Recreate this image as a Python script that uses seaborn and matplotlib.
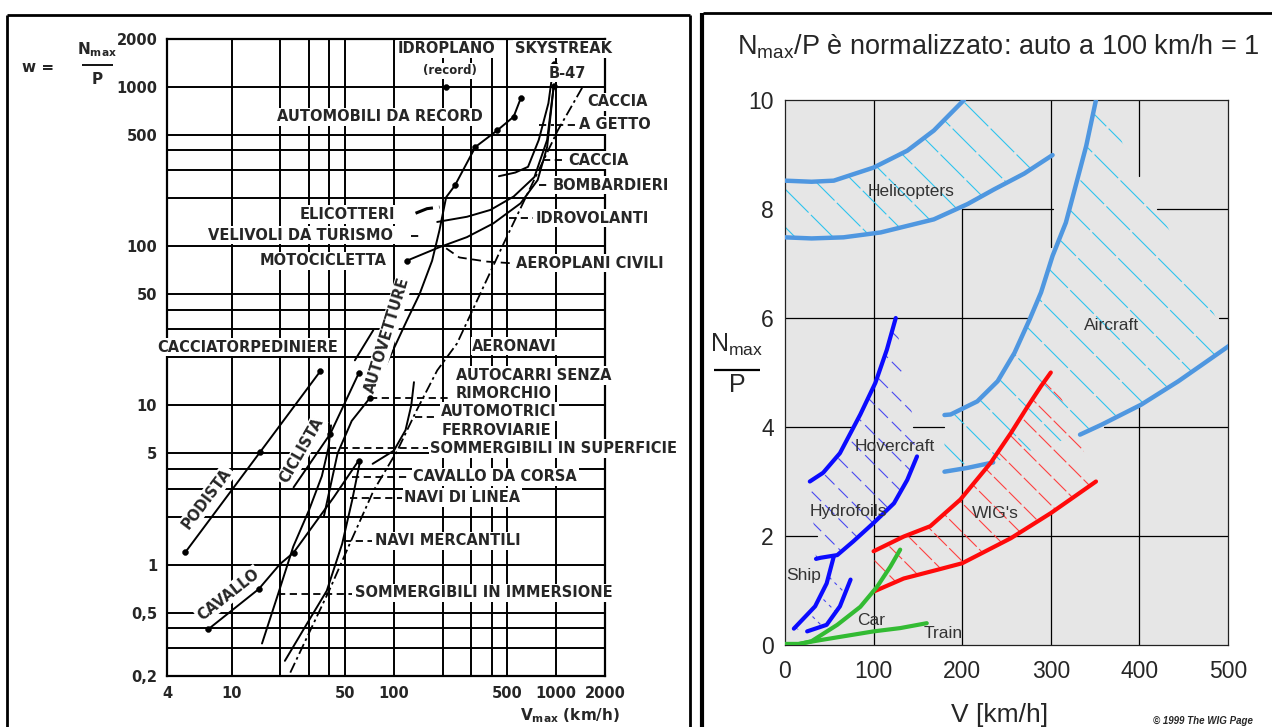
import numpy as np
import matplotlib
matplotlib.use("Agg")
import matplotlib.pyplot as plt
import seaborn as sns
from matplotlib.patches import Polygon
from matplotlib.lines import Line2D
from matplotlib.ticker import FixedLocator, NullFormatter

# ---------------- left chart: w = Nmax/P vs Vmax (log-log) ----------------
podista_v = [5.2, 15.0, 35.2]
podista_w = [1.2, 5.1, 16.4]
ciclista_v = [24.1, 40.6, 60.7]
ciclista_w = [3.06, 6.64, 15.9]
cavallo_v = [7.2, 14.7, 19.9, 24.1, 31.3, 42.6, 60.7]
cavallo_w = [0.394, 0.703, 1.01, 1.19, 1.72, 2.65, 4.51]
navi_v = [21.3, 28.9, 38.6, 48.0, 55.3, 62.0]
navi_w = [0.249, 0.42, 0.686, 1.35, 2.53, 4.5]
sommerg_v = [15.4, 19.4, 24.0, 30.0, 36.0, 39.5, 41.0]
sommerg_w = [0.32, 0.66, 1.3, 2.2, 3.6, 5.4, 7.5]
autocarri_v = [37, 45, 55, 71]
autocarri_w = [2.0, 5.0, 8.0, 11.1]
automotrici_v = [74, 100, 118, 128, 133]
automotrici_w = [4.3, 5.2, 7.0, 10.0, 14.0]
cacciatorp_v = [57.5, 74.7]
cacciatorp_w = [19.2, 29.7]
autovetture_v = [79, 102, 120, 144, 172, 191, 210, 238, 318, 435, 547, 607]
autovetture_w = [13.7, 23.8, 34, 50, 81, 126, 203, 241, 420, 535, 650, 855]
caccia_v = [444, 560, 671, 781, 896, 967]
caccia_w = [275, 290, 315, 464, 790, 1400]
moto_v = [120, 191, 282, 410, 604, 769, 880, 967]
moto_w = [81, 98.6, 114, 139, 186, 260, 420, 1020]
velivoli_v = [185, 282, 394, 547, 735, 880, 967]
velivoli_w = [142, 153, 169, 205, 272, 465, 1020]
limite_v = [23, 40.4, 53.6, 75, 105, 138, 185, 245, 475, 1025, 1480]
limite_w = [0.21, 0.706, 1.36, 2.92, 5.2, 9.3, 16.6, 24.5, 104, 535, 1030]
civili_v = [210, 253, 376, 545]
civili_w = [97, 85, 80, 78]
elicotteri_v = [136, 160, 191]
elicotteri_w = [161, 172, 176]

dots_v = [5.2, 15.0, 35.2, 40.6, 60.7, 7.2, 14.7, 24.1, 60.7, 238, 318, 435, 547, 607,
          120, 211, 967, 967, 71]
dots_w = [1.2, 5.1, 16.4, 6.64, 15.9, 0.394, 0.703, 1.19, 4.51, 241, 420, 535, 650, 855,
          81, 1000, 1400, 1020, 11.1]

# horizontal dashed leaders: (v start, v end, w)
leaders = [(19.4, 55, 0.657), (49, 73, 1.41), (53.6, 112, 2.64), (55, 125, 3.57),
           (39.6, 163, 5.44), (135, 187, 8.4), (71, 229, 11.1), (511, 720, 150),
           (780, 900, 242), (830, 1130, 346), (780, 966, 580), (1000, 1320, 580),
           (128, 150, 116)]

grid_v = [10, 20, 30, 40, 50, 100, 200, 300, 400, 500, 1000, 2000]
grid_w = [0.3, 0.4, 0.5, 1, 2, 3, 4, 5, 10, 20, 30, 40, 50, 100, 200, 300, 400, 500, 1000, 2000]
xt_left = [4, 10, 50, 100, 500, 1000, 2000]
xt_left_lab = ["4", "10", "50", "100", "500", "1000", "2000"]
yt_left = [0.2, 0.5, 1, 5, 10, 50, 100, 500, 1000, 2000]
yt_left_lab = ["0,2", "0,5", "1", "5", "10", "50", "100", "500", "1000", "2000"]

labels_left = [
    ("IDROPLANO", 106, 1740), ("SKYSTREAK", 555, 1740), ("B-47", 900, 1220),
    ("CACCIA", 1564, 805), ("A GETTO", 1375, 580), ("CACCIA", 1180, 346),
    ("BOMBARDIERI", 953, 241), ("IDROVOLANTI", 749, 150),
    ("AUTOMOBILI DA RECORD", 19.1, 650), ("ELICOTTERI", 26.4, 158),
    ("VELIVOLI DA TURISMO", 7.16, 117), ("MOTOCICLETTA", 14.8, 81),
    ("AEROPLANI CIVILI", 562, 78), ("CACCIATORPEDINIERE", 3.48, 23.2),
    ("AERONAVI", 304, 23.5), ("AUTOCARRI SENZA", 240, 15.4), ("RIMORCHIO", 240, 11.9),
    ("AUTOMOTRICI", 196, 9.15), ("FERROVIARIE", 196, 6.96),
    ("SOMMERGIBILI IN SUPERFICIE", 168, 5.36), ("CAVALLO DA CORSA", 132, 3.57),
    ("NAVI DI LINEA", 116, 2.64), ("NAVI MERCANTILI", 76.8, 1.415),
    ("SOMMERGIBILI IN IMMERSIONE", 58, 0.667)]
rotated_left = [("PODISTA", 7.05, 2.6, 53), ("CICLISTA", 27.0, 5.2, 60),
                ("CAVALLO", 9.55, 0.648, 38), ("AUTOVETTURE", 91, 27.6, 73)]

# ---------------- right chart: normalised Nmax/P vs V ----------------
heli_up_v = [0, 30, 55, 100, 138, 168, 202]
heli_up_n = [8.52, 8.5, 8.52, 8.76, 9.07, 9.44, 10.0]
heli_lo_v = [0, 30, 66, 108, 168, 206, 236, 270, 302]
heli_lo_n = [7.48, 7.46, 7.48, 7.57, 7.81, 8.09, 8.36, 8.65, 8.99]
air_left_v = [180, 187, 217, 240, 259, 276, 289, 302, 317, 327, 340, 351]
air_left_n = [4.22, 4.23, 4.47, 4.84, 5.36, 5.97, 6.47, 7.14, 7.75, 8.36, 9.16, 10.0]
air_right_v = [333, 357, 402, 444, 474, 503]
air_right_n = [3.86, 4.04, 4.41, 4.84, 5.18, 5.51]
air_low_v = [180, 206, 235]
air_low_n = [3.18, 3.25, 3.35]
hov_up_v = [28, 43, 62, 85, 102, 115, 125]
hov_up_n = [3.0, 3.16, 3.52, 4.23, 4.81, 5.42, 6.0]
hov_lo_v = [35, 40, 59, 77, 100, 123, 138, 149]
hov_lo_n = [1.58, 1.6, 1.65, 1.9, 2.24, 2.6, 3.03, 3.46]
ship_l_v = [10, 34, 47, 55]
ship_l_n = [0.3, 0.71, 1.13, 1.62]
ship_r_v = [25, 47, 62, 74]
ship_r_n = [0.25, 0.37, 0.71, 1.2]
wig_up_v = [100, 134, 164, 198, 232, 255, 274, 289, 300]
wig_up_n = [1.72, 1.99, 2.18, 2.67, 3.34, 3.89, 4.38, 4.75, 5.0]
wig_lo_v = [100, 134, 172, 200, 255, 300, 351]
wig_lo_n = [0.98, 1.22, 1.38, 1.5, 1.96, 2.42, 3.0]
car_v = [12, 30, 59, 85, 104, 119, 130]
car_n = [0.0, 0.07, 0.37, 0.7, 1.07, 1.44, 1.75]
train_v = [0, 15, 40, 70, 100, 130, 160]
train_n = [0.02, 0.02, 0.09, 0.17, 0.25, 0.31, 0.4]

labels_right = [("Helicopters", 142, 8.32), ("Aircraft", 368, 5.86), ("Hovercraft", 124, 3.64),
                ("Hydrofoils", 71, 2.45), ("Ship", 20.6, 1.27), ("Car", 97, 0.45),
                ("Train", 178, 0.21), ("WIG's", 237, 2.42)]

# partial grid lines of the right chart: (x0, x1, y0, y1)
grid_right = [(100, 100, 0, 10), (200, 200, 0, 8), (300, 300, 0, 2.4), (300, 300, 7.3, 10),
              (400, 400, 0, 4.4), (400, 400, 8.6, 10),
              (0, 36, 2, 2), (100, 500, 2, 2), (0, 76, 4, 4), (145, 180, 4, 4), (360, 500, 4, 4),
              (0, 275, 6, 6), (490, 500, 6, 6), (200, 303, 8, 8), (420, 500, 8, 8)]

W, H = 1272, 727
sns.set_style("white")
plt.rcParams["font.family"] = ["Liberation Sans", "DejaVu Sans"]
LF = dict(family="DejaVu Sans", fontweight="bold")

fig = plt.figure(figsize=(W / 100, H / 100), dpi=100)


def fx(px):
    return px / W


def fy(py):
    return 1 - py / H


def fig_line(x0, y0, x1, y1, lw):
    fig.add_artist(Line2D([fx(x0), fx(x1)], [fy(y0), fy(y1)], transform=fig.transFigure,
                          color="black", lw=lw, solid_capstyle="butt"))


def curve(ax, v, n, color="black", lw=1.3, z=2):
    sns.lineplot(x=v, y=n, ax=ax, sort=False, color=color, lw=lw, zorder=z,
                 solid_capstyle="round", solid_joinstyle="round")


def hatch(ax, xs, ys, color, step_px=32, lw=0.8, dash=(30, 3)):
    # diagonal hatch lines at -45 degrees (screen space), clipped to the band
    patch = Polygon(np.column_stack([xs, ys]), closed=True, transform=ax.transData,
                    facecolor="none", edgecolor="none")
    ax.add_patch(patch)
    pos = ax.get_position()
    x0, x1 = ax.get_xlim()
    y0, y1 = ax.get_ylim()
    sx = pos.width * W / (x1 - x0)
    sy = pos.height * H / (y1 - y0)
    k = sx / sy
    dc = step_px / sy
    cs = np.array(ys) + k * np.array(xs)
    c = np.floor(cs.min() / dc) * dc
    while c <= cs.max() + dc:
        ln, = ax.plot([x0, x1], [c - k * x0, c - k * x1], color=color, lw=lw,
                      ls=(0, dash), zorder=1.5)
        ln.set_clip_path(patch)
        c += dc


# ======================= left panel =======================
ax1 = fig.add_axes([fx(167), fy(676), fx(605) - fx(167), fy(39) - fy(676)])
ax1.set_xscale("log")
ax1.set_yscale("log")
ax1.set_xlim(4, 2000)
ax1.set_ylim(0.2, 2000)
for v in grid_v:
    ax1.axvline(v, color="black", lw=1.4, zorder=1)
for w in grid_w:
    ax1.axhline(w, color="black", lw=1.4, zorder=1)
for s in ax1.spines.values():
    s.set_color("black")
    s.set_linewidth(1.6)

ax1.set_xticks(xt_left, xt_left_lab, fontsize=10.5, **LF)
ax1.set_yticks(yt_left, yt_left_lab, fontsize=10.5, **LF)
ax1.xaxis.set_minor_locator(FixedLocator([5, 6, 7, 8, 9, 60, 70, 80, 90, 600, 700, 800, 900]))
ax1.yaxis.set_minor_locator(FixedLocator([0.6, 0.7, 0.8, 0.9, 6, 7, 8, 9, 60, 70, 80, 90,
                                          600, 700, 800, 900]))
ax1.xaxis.set_minor_formatter(NullFormatter())
ax1.yaxis.set_minor_formatter(NullFormatter())
ax1.tick_params(which="major", length=0, pad=7)
ax1.tick_params(which="minor", direction="in", length=5, width=1.3, color="black")

for v, w in [(podista_v, podista_w), (ciclista_v, ciclista_w), (cavallo_v, cavallo_w),
             (navi_v, navi_w), (sommerg_v, sommerg_w), (autocarri_v, autocarri_w),
             (automotrici_v, automotrici_w), (cacciatorp_v, cacciatorp_w),
             (autovetture_v, autovetture_w), (caccia_v, caccia_w), (moto_v, moto_w),
             (velivoli_v, velivoli_w)]:
    curve(ax1, v, w, lw=1.4)
ax1.plot(limite_v, limite_w, color="black", lw=1.3, ls=(0, (6, 2, 1.5, 2)), zorder=2)
ax1.plot(civili_v, civili_w, color="black", lw=1.3, ls=(0, (5, 3)), zorder=2)
ax1.plot(elicotteri_v, elicotteri_w, color="black", lw=2.2, ls=(0, (6, 2)), zorder=2)
for v0, v1, w in leaders:
    ax1.plot([v0, v1], [w, w], color="black", lw=1.3, ls=(0, (4, 2.5)), zorder=2)
sns.scatterplot(x=dots_v, y=dots_w, ax=ax1, color="black", s=18, zorder=4, edgecolor="black")

box = dict(facecolor="white", edgecolor="none", pad=1.2)
for txt, v, w in labels_left:
    ax1.text(v, w, txt, ha="left", va="center", fontsize=10.5, bbox=box, zorder=5, **LF)
ax1.text(223, 1260, "(record)", ha="center", va="center", fontsize=8.5, bbox=box, zorder=5, **LF)
for txt, v, w, rot in rotated_left:
    ax1.text(v, w, txt, ha="center", va="center", rotation=rot, rotation_mode="anchor",
             fontsize=10.5, bbox=box, zorder=5, **LF)

fig.text(fx(570), fy(716), r"V$_\mathregular{max}$ (km/h)", ha="center", va="center",
         fontsize=11, **LF)
fig.text(fx(22), fy(68), "w =", ha="left", va="center", fontsize=11, **LF)
fig.text(fx(97), fy(50), r"N$_\mathregular{max}$", ha="center", va="center", fontsize=11, **LF)
fig.text(fx(97), fy(79), "P", ha="center", va="center", fontsize=11, **LF)
fig_line(82, 65, 113, 65, 1.3)

# ======================= right panel =======================
ax2 = fig.add_axes([fx(785), fy(645), fx(1228) - fx(785), fy(100) - fy(645)])
ax2.set_facecolor("#e6e6e6")
ax2.set_xlim(0, 500)
ax2.set_ylim(0, 10)
for s in ax2.spines.values():
    s.set_color("#222222")
    s.set_linewidth(0.9)
for x0, x1, y0, y1 in grid_right:
    ax2.plot([x0, x1], [y0, y1], color="black", lw=0.9, zorder=1)

ax2.set_xticks([0, 100, 200, 300, 400, 500])
ax2.set_yticks([0, 2, 4, 6, 8, 10])
ax2.xaxis.set_minor_locator(FixedLocator(np.arange(0, 501, 10)))
ax2.yaxis.set_minor_locator(FixedLocator(np.arange(0, 10.01, 0.2)))
ax2.tick_params(axis="x", which="both", direction="out", length=6, width=0.8, labelsize=16.5, pad=5)
ax2.tick_params(axis="y", which="both", direction="out", length=4, width=0.8, labelsize=16.5, pad=4)

sky = "#4f97e0"
cyan = "#2fc4ee"
hatch(ax2, heli_up_v + [235, 302] + heli_lo_v[::-1], heli_up_n + [10.0, 8.99] + heli_lo_n[::-1],
      cyan, step_px=38)
hatch(ax2, air_left_v + [365, 381, 444, 503] + air_right_v[::-1] + air_low_v[::-1],
      air_left_n + [10.0, 9.2, 7.3, 5.5] + air_right_n[::-1] + air_low_n[::-1], cyan, step_px=40)
hatch(ax2, hov_up_v + [134, 144] + hov_lo_v[::-1] + [30],
      hov_up_n + [5.0, 4.2] + hov_lo_n[::-1] + [2.7], "#4a4af0", step_px=30, dash=(12, 5))
hatch(ax2, ship_l_v + ship_r_v[::-1], ship_l_n + ship_r_n[::-1], "#4a4af0", step_px=28, dash=(3, 4))
hatch(ax2, wig_up_v + wig_lo_v[::-1], wig_up_n + wig_lo_n[::-1], "#ff4040", step_px=29, dash=(16, 3))

for v, n in [(heli_up_v, heli_up_n), (heli_lo_v, heli_lo_n), (air_left_v, air_left_n),
             (air_right_v, air_right_n), (air_low_v, air_low_n)]:
    curve(ax2, v, n, color=sky, lw=3.2, z=3)
for v, n in [(hov_up_v, hov_up_n), (hov_lo_v, hov_lo_n), (ship_l_v, ship_l_n), (ship_r_v, ship_r_n)]:
    curve(ax2, v, n, color="#0b0bff", lw=3.0, z=3)
for v, n in [(wig_up_v, wig_up_n), (wig_lo_v, wig_lo_n)]:
    curve(ax2, v, n, color="#ff0a0a", lw=3.0, z=3)
for v, n in [(car_v, car_n), (train_v, train_n)]:
    curve(ax2, v, n, color="#33bb33", lw=3.0, z=3)

for txt, v, n in labels_right:
    ax2.text(v, n, txt, ha="center", va="center", fontsize=12.5, color="#333333", zorder=4)

fig.text(fx(998), fy(47), r"N$_\mathregular{max}$/P è normalizzato: auto a 100 km/h = 1",
         ha="center", va="center", fontsize=19.5)
fig.text(fx(737), fy(345), r"N$_\mathregular{max}$", ha="center", va="center", fontsize=18)
fig.text(fx(737), fy(385), "P", ha="center", va="center", fontsize=18)
fig_line(714, 370, 760, 370, 1.6)
fig.text(fx(1000), fy(722), "V [km/h]", ha="center", va="baseline", fontsize=19)
fig.text(fx(1153), fy(724), "© 1999 The WIG Page", ha="left", va="baseline", fontsize=7,
         fontweight="bold", fontstyle="italic")

# panel frames
fig_line(7, 15, 690, 15, 2.0)
fig_line(7, 15, 7, 727, 2.0)
fig_line(690, 15, 690, 727, 2.0)
fig_line(703, 13, 1272, 13, 2.0)
fig_line(702, 13, 702, 727, 3.0)

fig.savefig("out.png", dpi=100)
